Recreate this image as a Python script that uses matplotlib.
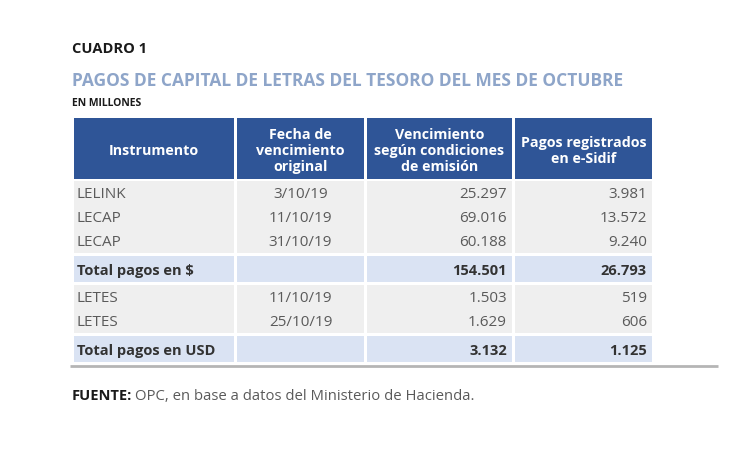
import matplotlib.pyplot as plt
from matplotlib.patches import Rectangle

plt.rcParams['font.family'] = ['Open Sans', 'DejaVu Sans']

headers = ['Instrumento', 'Fecha de\nvencimiento\noriginal',
           'Vencimiento\nsegún condiciones\nde emisión', 'Pagos registrados\nen e-Sidif']
instrumentos_pesos = ['LELINK', 'LECAP', 'LECAP']
fechas_pesos = ['3/10/19', '11/10/19', '31/10/19']
venc_pesos = ['25.297', '69.016', '60.188']
pagos_pesos = ['3.981', '13.572', '9.240']
total_pesos = ['Total pagos en $', '', '154.501', '26.793']
instrumentos_usd = ['LETES', 'LETES']
fechas_usd = ['11/10/19', '25/10/19']
venc_usd = ['1.503', '1.629']
pagos_usd = ['519', '606']
total_usd = ['Total pagos en USD', '', '3.132', '1.125']

# layout (pixels)
col_left = [74, 237, 367, 515]
col_right = [234, 364, 512, 652]
align = ['left', 'center', 'right', 'right']
header_c = '#2f5597'
body_c = '#efefef'
total_c = '#dae3f3'
text_c = '#5a5a5a'
dy = 2  # Open Sans sits a bit high with va='center'

fig = plt.figure(figsize=(7.5, 4.51), dpi=100)
ax = fig.add_axes([0, 0, 1, 1])
ax.set_xlim(0, 750)
ax.set_ylim(451, 0)
ax.axis('off')


def cell_x(j):
    if align[j] == 'left':
        return col_left[j] + 3
    if align[j] == 'right':
        return col_right[j] - 5
    return (col_left[j] + col_right[j]) / 2


ax.text(72, 47 + dy, 'CUADRO 1', fontsize=10.5, fontweight='bold', color='#1a1a1a', va='center')
ax.text(72, 79 + dy, 'PAGOS DE CAPITAL DE LETRAS DEL TESORO DEL MES DE OCTUBRE',
        fontsize=12.5, fontweight='bold', color='#8ea5c9', va='center')
ax.text(72, 101 + dy, 'EN MILLONES', fontsize=7.5, fontweight='bold', color='#1a1a1a', va='center')

# header
for j, h in enumerate(headers):
    ax.add_patch(Rectangle((col_left[j], 118), col_right[j] - col_left[j], 61, color=header_c, lw=0))
    ax.text((col_left[j] + col_right[j]) / 2, 149 + dy, h, ha='center', va='center', color='white',
            fontsize=10.3, fontweight='bold', linespacing=1.18)


def block(top, rows, row_h):
    for j in range(4):
        ax.add_patch(Rectangle((col_left[j], top), col_right[j] - col_left[j], row_h * len(rows),
                               color=body_c, lw=0))
    for i, r in enumerate(rows):
        y = top + row_h * (i + 0.5) + dy
        for j, v in enumerate(r):
            ax.text(cell_x(j), y, v, ha=align[j], va='center', color=text_c, fontsize=11)


def total(top, r):
    for j in range(4):
        ax.add_patch(Rectangle((col_left[j], top), col_right[j] - col_left[j], 26, color=total_c, lw=0))
        ax.text(cell_x(j), top + 13 + dy, r[j], ha=align[j], va='center', color='#333333',
                fontsize=10.5, fontweight='bold')


block(181, list(zip(instrumentos_pesos, fechas_pesos, venc_pesos, pagos_pesos)), 24)
total(256, total_pesos)
block(285, list(zip(instrumentos_usd, fechas_usd, venc_usd, pagos_usd)), 24)
total(336, total_usd)

ax.plot([70, 718], [366, 366], color='#b5b5b5', lw=2, solid_capstyle='butt')

ax.text(72, 394 + dy, 'FUENTE:', fontsize=10.5, fontweight='bold', color='#1a1a1a', va='center')
ax.text(135, 394 + dy, 'OPC, en base a datos del Ministerio de Hacienda.', fontsize=10.7,
        color=text_c, va='center')

fig.savefig('out.png', dpi=100, facecolor='white')
